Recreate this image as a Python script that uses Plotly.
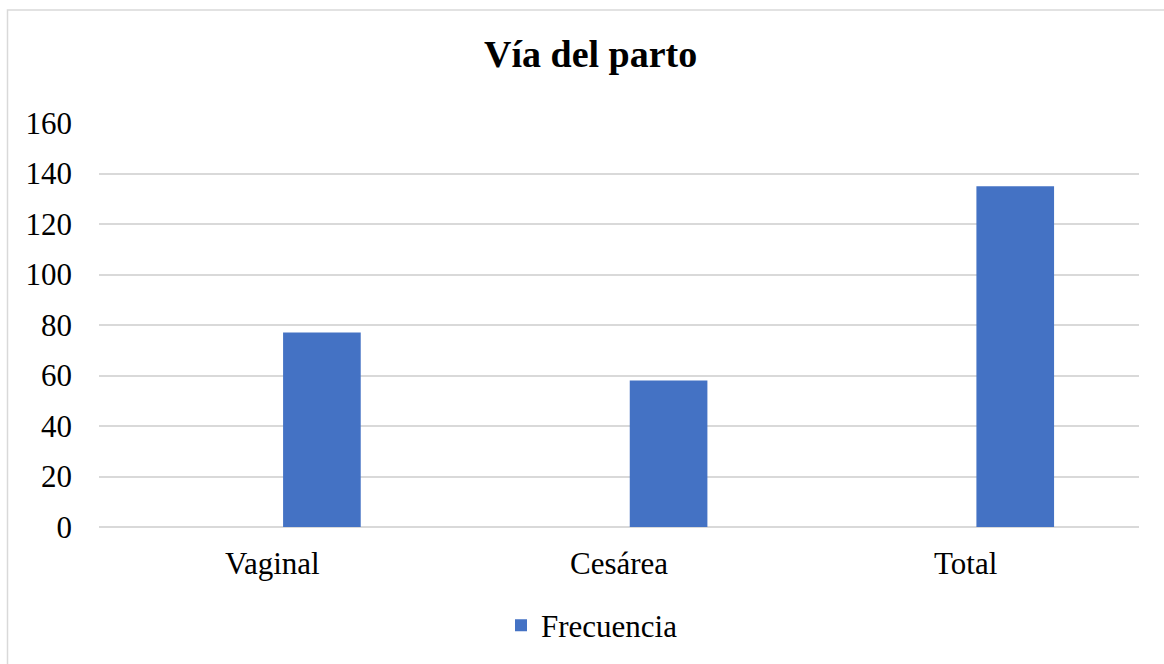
import plotly.graph_objects as go

categories = ["Vaginal", "Cesárea", "Total"]
frecuencia = [77, 58, 135]
y_ticks = [0, 20, 40, 60, 80, 100, 120, 140, 160]
series_name = "Frecuencia"
title_text = "Vía del parto"

FONT = "Liberation Serif, Times New Roman, serif"
W, H = 1164, 664
ML, MR, MT, MB = 99, 25, 123, 135
pw = W - ML - MR
ph = H - MT - MB

def px_x(p):
    return (p - ML) / pw

def px_y(p):
    return (H - MB - p) / ph

fig = go.Figure()
fig.add_trace(go.Bar(
    x=categories, y=frecuencia, name=series_name,
    marker=dict(color="#4472C4", line=dict(width=0)),
    width=0.224, offset=0.031,
    showlegend=True,
))

fig.update_layout(
    width=W, height=H,
    margin=dict(l=ML, r=MR, t=MT, b=MB),
    paper_bgcolor="white", plot_bgcolor="white",
    font=dict(family=FONT, size=31, color="black"),
    showlegend=True,
    legend=dict(
        orientation="h", x=px_x(592), xanchor="center",
        y=px_y(628), yanchor="middle",
        font=dict(family=FONT, size=31, color="black"),
        bgcolor="rgba(0,0,0,0)",
        itemwidth=30,
    ),
    xaxis=dict(
        type="category", range=[-0.5, 2.5],
        showgrid=False, showline=False, zeroline=False,
        ticks="", ticklabelstandoff=15,
        tickfont=dict(family=FONT, size=31, color="black"),
    ),
    yaxis=dict(
        range=[0, 160], tickvals=y_ticks,
        showgrid=True, gridcolor="#D9D9D9", gridwidth=1.5,
        zeroline=True, zerolinecolor="#D9D9D9", zerolinewidth=1.5,
        showline=False, ticks="", ticklabelstandoff=26,
        tickfont=dict(family=FONT, size=31, color="black"),
    ),
    shapes=[dict(
        type="rect", xref="paper", yref="paper",
        x0=px_x(7.5), x1=px_x(1180), y0=px_y(9.5), y1=px_y(700),
        line=dict(color="#D9D9D9", width=1.5), fillcolor="rgba(0,0,0,0)",
        layer="below",
    )],
    annotations=[dict(
        text="<b>" + title_text + "</b>", xref="paper", yref="paper",
        x=px_x(590), y=px_y(54), xanchor="center", yanchor="middle",
        showarrow=False, font=dict(family=FONT, size=38, color="black"),
    )],
)

fig.write_html("out.html")
